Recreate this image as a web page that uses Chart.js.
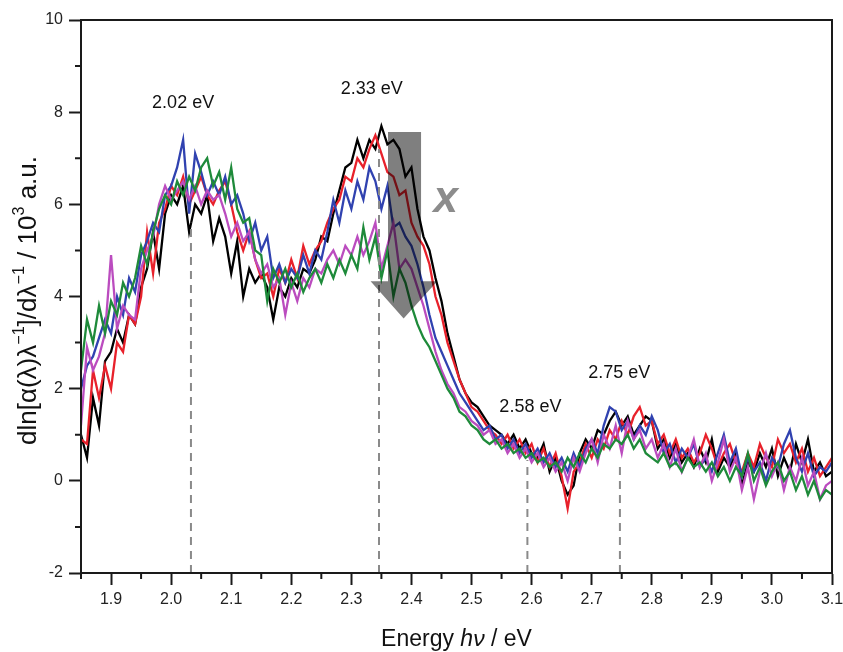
<!DOCTYPE html>
<html>
<head>
<meta charset="utf-8">
<script src="https://cdn.jsdelivr.net/npm/chart.js@4.4.0/dist/chart.umd.min.js"></script>
<style>
html, body { margin: 0; padding: 0; background: #fff; }
</style>
</head>
<body>
<canvas id="c" width="843" height="652"></canvas>
<script>
// energy axis (eV), one point every 0.01 eV
const energy = [
  1.85,1.86,1.87,1.88,1.89,1.90,1.91,1.92,1.93,1.94,
  1.95,1.96,1.97,1.98,1.99,2.00,2.01,2.02,2.03,2.04,
  2.05,2.06,2.07,2.08,2.09,2.10,2.11,2.12,2.13,2.14,
  2.15,2.16,2.17,2.18,2.19,2.20,2.21,2.22,2.23,2.24,
  2.25,2.26,2.27,2.28,2.29,2.30,2.31,2.32,2.33,2.34,
  2.35,2.36,2.37,2.38,2.39,2.40,2.41,2.42,2.43,2.44,
  2.45,2.46,2.47,2.48,2.49,2.50,2.51,2.52,2.53,2.54,
  2.55,2.56,2.57,2.58,2.59,2.60,2.61,2.62,2.63,2.64,
  2.65,2.66,2.67,2.68,2.69,2.70,2.71,2.72,2.73,2.74,
  2.75,2.76,2.77,2.78,2.79,2.80,2.81,2.82,2.83,2.84,
  2.85,2.86,2.87,2.88,2.89,2.90,2.91,2.92,2.93,2.94,
  2.95,2.96,2.97,2.98,2.99,3.00,3.01,3.02,3.03,3.04,
  3.05,3.06,3.07,3.08,3.09,3.10
];

const blackVals = [
  1.0,0.5,1.8,1.2,2.6,2.8,3.3,3.0,3.6,3.4,
  4.2,4.6,5.4,4.6,5.8,6.2,6.0,6.4,5.4,6.0,
  5.8,6.2,5.2,5.7,5.3,4.5,5.2,4.0,4.6,4.3,
  4.5,4.2,3.5,4.2,4.0,4.4,4.2,4.6,4.5,4.8,
  5.3,5.2,5.8,6.3,6.8,6.9,7.4,7.0,7.4,7.2,
  7.7,7.3,7.4,7.2,6.6,6.8,5.9,5.3,5.0,4.4,
  3.9,3.2,2.7,2.2,1.9,1.7,1.6,1.4,1.2,1.1,
  1.0,0.8,1.0,0.7,0.9,0.6,0.5,0.8,0.2,0.5,
  0.0,-0.3,-0.1,0.6,0.9,0.7,1.1,1.0,1.3,1.5,
  1.2,1.4,1.0,1.2,1.4,1.3,0.7,0.9,0.5,0.8,
  0.4,0.6,0.3,0.7,0.4,0.9,0.2,0.5,0.3,0.6,
  -0.1,0.4,0.2,0.6,0.3,0.7,0.1,0.5,0.2,0.8,
  0.4,0.9,0.2,0.4,0.1,0.2
];

const redVals = [
  0.9,0.8,2.4,1.8,2.5,2.0,3.0,2.8,3.6,3.4,
  4.0,5.4,4.5,5.6,5.9,6.4,6.2,6.6,6.0,6.3,
  6.6,6.2,6.0,6.3,6.5,6.0,5.4,5.0,5.4,4.8,
  4.4,4.5,4.0,4.6,4.3,4.8,4.4,5.1,4.7,5.0,
  5.2,5.6,5.9,6.1,6.6,6.5,7.0,6.8,7.2,7.5,
  7.1,6.7,6.6,6.2,6.3,5.6,5.3,5.1,4.7,4.0,
  3.6,3.0,2.6,2.2,1.9,1.6,1.5,1.3,1.1,1.0,
  0.8,1.0,0.7,0.9,0.6,0.8,0.4,0.7,0.3,0.6,
  0.1,-0.6,0.2,0.4,0.8,0.5,0.9,0.7,1.1,0.9,
  1.3,1.0,1.4,1.6,1.2,1.3,0.8,1.0,0.6,0.9,
  0.5,0.7,0.4,0.6,1.0,0.7,0.3,0.6,0.8,0.4,
  0.2,0.6,0.3,0.8,0.5,0.3,0.9,0.6,0.8,0.4,
  0.7,0.2,0.5,0.1,0.3,0.5
];

const blueVals = [
  2.0,2.5,2.7,3.1,3.5,3.2,4.0,3.6,4.4,4.1,
  4.9,5.2,5.6,5.4,6.2,6.4,6.8,7.4,5.8,7.1,
  6.7,6.2,6.5,6.2,6.6,6.0,6.2,5.8,5.2,5.6,
  5.0,5.3,4.4,4.7,4.3,4.6,4.4,4.9,4.5,5.0,
  4.8,5.4,6.1,5.6,6.3,5.9,6.5,6.1,6.8,6.5,
  5.9,6.4,5.5,5.6,5.3,5.1,4.7,4.2,3.6,3.1,
  2.8,2.5,2.2,1.9,1.7,1.5,1.3,1.1,1.2,0.9,
  1.0,0.7,0.9,0.6,0.8,0.5,0.7,0.4,0.6,0.3,
  0.5,0.2,0.6,0.3,0.7,0.9,0.6,1.2,1.6,1.5,
  1.1,1.3,0.9,1.2,1.0,1.4,1.1,0.6,0.8,0.4,
  0.7,0.5,0.8,0.3,0.5,0.2,0.6,1.0,0.4,0.7,
  0.1,0.5,0.2,0.4,0.0,0.5,0.3,0.8,1.1,0.5,
  0.2,0.6,0.1,0.3,0.2,0.4
];

const magentaVals = [
  1.2,2.9,2.4,2.7,3.2,4.9,3.3,3.8,3.6,3.5,
  4.6,5.0,5.3,6.0,6.4,6.1,6.3,6.5,6.1,6.4,
  6.0,6.3,6.1,6.2,5.8,5.3,5.6,5.2,5.4,4.8,
  4.5,4.7,4.2,4.4,3.6,4.3,3.9,4.4,4.2,4.6,
  4.5,4.8,5.0,4.7,5.1,4.9,5.3,4.9,5.2,5.6,
  4.6,5.1,5.6,4.6,4.8,4.6,4.2,3.8,3.3,2.8,
  2.4,2.1,1.9,1.6,1.5,1.3,1.2,1.0,1.1,0.8,
  0.9,0.6,0.8,0.5,0.7,0.4,0.6,0.3,0.5,0.2,
  0.4,0.0,0.5,0.2,0.6,0.9,0.4,1.0,0.7,1.2,
  0.6,1.3,0.9,1.1,0.7,0.9,0.5,0.8,0.3,0.7,
  0.2,0.5,0.9,0.3,0.6,0.0,0.4,0.9,0.2,0.5,
  -0.2,0.3,-0.4,0.2,0.6,0.1,0.4,-0.2,0.3,0.0,
  0.5,-0.1,0.2,-0.4,-0.1,0.0
];

const greenVals = [
  2.4,3.5,3.0,3.8,3.2,3.9,3.6,4.3,4.0,4.4,
  5.1,4.7,5.4,5.9,6.2,6.0,6.5,6.2,6.6,6.3,
  6.8,7.0,6.4,6.7,6.1,6.8,5.9,5.6,5.7,5.0,
  4.9,3.9,4.6,4.3,4.6,4.2,4.5,4.1,4.4,4.6,
  4.3,4.7,4.4,4.8,4.5,4.9,4.6,5.5,4.8,5.3,
  4.4,5.0,4.0,4.6,4.3,3.8,3.4,3.1,2.9,2.6,
  2.3,2.0,1.8,1.5,1.4,1.2,1.1,0.9,0.8,0.9,
  0.7,0.8,0.6,0.7,0.5,0.6,0.4,0.5,0.3,0.4,
  0.2,0.5,0.3,0.6,0.4,0.7,0.5,0.8,0.7,0.9,
  0.8,1.0,0.7,0.9,0.6,0.5,0.4,0.6,0.3,0.4,
  0.2,0.5,0.3,0.4,0.2,0.4,0.1,0.3,0.0,0.3,
  0.1,0.6,0.0,0.3,-0.1,0.2,0.4,0.0,0.2,-0.2,
  0.1,-0.3,0.0,-0.4,-0.2,-0.3
];

// ticks
const xTicks = [1.9,2.0,2.1,2.2,2.3,2.4,2.5,2.6,2.7,2.8,2.9,3.0,3.1];
const xMinor = [1.85,1.95,2.05,2.15,2.25,2.35,2.45,2.55,2.65,2.75,2.85,2.95,3.05];
const yTicks = [-2,0,2,4,6,8,10];
const yMinor = [-1,1,3,5,7,9];

// peak markers
const peakLabels = ['2.02 eV','2.33 eV','2.58 eV','2.75 eV'];
const peakLineX = [2.033, 2.346, 2.593, 2.747];
const peakLineTop = [5.6, 7.2, 0.45, 0.4];

// label placement (data units)
const labelPos = [
  {x: 2.02, y: 8.2},
  {x: 2.334, y: 8.5},
  {x: 2.598, y: 1.6},
  {x: 2.746, y: 2.35}
];
const arrowShape = {x0: 2.361, x1: 2.416, top: 7.57, hx0: 2.332, hx1: 2.443, base: 4.33, tipX: 2.387, tip: 3.52};
const xMark = {x: 2.457, y: 6.1};

const FONT = '"Liberation Sans", Arial, sans-serif';
const AXIS = '#1a1a1a';

function pts(vals) {
  return energy.map((e, i) => ({x: e, y: vals[i]}));
}

const series = [
  {vals: blackVals, color: '#000000', order: 5},
  {vals: redVals, color: '#e8212b', order: 4},
  {vals: blueVals, color: '#3042b0', order: 3},
  {vals: magentaVals, color: '#bb4cbf', order: 2},
  {vals: greenVals, color: '#1e8a3a', order: 1}
];

const datasets = series.map(s => ({
  data: pts(s.vals),
  borderColor: s.color,
  borderWidth: 2.3,
  pointRadius: 0,
  tension: 0,
  order: s.order
}));

peakLineX.forEach((x, i) => {
  datasets.push({
    data: [{x: x, y: -2}, {x: x, y: peakLineTop[i]}],
    borderColor: '#8a8a8a',
    borderWidth: 2,
    borderDash: [8, 6],
    pointRadius: 0,
    order: 0
  });
});

function drawRich(ctx, segs, size) {
  // measure then draw centred at the origin
  let total = 0;
  segs.forEach(s => {
    ctx.font = (s.italic ? 'italic ' : '') + (s.sup ? size * 0.62 : size) + 'px ' + FONT;
    s.w = ctx.measureText(s.t).width;
    total += s.w;
  });
  let x = -total / 2;
  ctx.textAlign = 'left';
  ctx.textBaseline = 'middle';
  segs.forEach(s => {
    ctx.font = (s.italic ? 'italic ' : '') + (s.sup ? size * 0.62 : size) + 'px ' + FONT;
    ctx.fillText(s.t, x, s.sup ? -size * 0.38 : 0);
    x += s.w;
  });
}

const overlay = {
  id: 'overlay',
  afterDatasetsDraw(chart) {
    const {ctx, scales: {x, y}} = chart;
    const a = arrowShape;
    ctx.save();
    ctx.fillStyle = 'rgba(0,0,0,0.5)';
    ctx.beginPath();
    ctx.moveTo(x.getPixelForValue(a.x0), y.getPixelForValue(a.top));
    ctx.lineTo(x.getPixelForValue(a.x1), y.getPixelForValue(a.top));
    ctx.lineTo(x.getPixelForValue(a.x1), y.getPixelForValue(a.base));
    ctx.lineTo(x.getPixelForValue(a.hx1), y.getPixelForValue(a.base));
    ctx.lineTo(x.getPixelForValue(a.tipX), y.getPixelForValue(a.tip));
    ctx.lineTo(x.getPixelForValue(a.hx0), y.getPixelForValue(a.base));
    ctx.lineTo(x.getPixelForValue(a.x0), y.getPixelForValue(a.base));
    ctx.closePath();
    ctx.fill();

    ctx.fillStyle = '#8c8c8c';
    ctx.font = 'italic bold 44px ' + FONT;
    ctx.textAlign = 'center';
    ctx.textBaseline = 'middle';
    ctx.fillText('x', x.getPixelForValue(xMark.x), y.getPixelForValue(xMark.y));

    ctx.fillStyle = '#111';
    ctx.font = '18px ' + FONT;
    peakLabels.forEach((t, i) => {
      ctx.fillText(t, x.getPixelForValue(labelPos[i].x), y.getPixelForValue(labelPos[i].y));
    });
    ctx.restore();
  },
  afterDraw(chart) {
    const {ctx, chartArea: ca, scales: {x, y}} = chart;
    ctx.save();
    ctx.strokeStyle = AXIS;
    ctx.lineWidth = 2;
    ctx.strokeRect(ca.left, ca.top, ca.right - ca.left, ca.bottom - ca.top);
    ctx.beginPath();
    xMinor.forEach(v => {
      const px = x.getPixelForValue(v);
      ctx.moveTo(px, ca.bottom);
      ctx.lineTo(px, ca.bottom + 6);
    });
    yMinor.forEach(v => {
      const py = y.getPixelForValue(v);
      ctx.moveTo(ca.left, py);
      ctx.lineTo(ca.left - 6, py);
    });
    ctx.stroke();

    ctx.fillStyle = '#111';
    ctx.save();
    ctx.translate((ca.left + ca.right) / 2, 640);
    drawRich(ctx, [{t: 'Energy '}, {t: 'h\u03bd', italic: true}, {t: ' / eV'}], 23);
    ctx.restore();

    ctx.save();
    ctx.translate(29, (ca.top + ca.bottom) / 2 + 4);
    ctx.rotate(-Math.PI / 2);
    drawRich(ctx, [
      {t: 'dln[\u03b1(\u03bb)\u03bb'}, {t: '\u22121', sup: true},
      {t: ']/d\u03bb'}, {t: '\u22121', sup: true},
      {t: ' / 10'}, {t: '3', sup: true}, {t: ' a.u.'}
    ], 26);
    ctx.restore();
    ctx.restore();
  }
};

new Chart(document.getElementById('c').getContext('2d'), {
  type: 'line',
  data: {datasets},
  options: {
    responsive: false,
    animation: false,
    layout: {padding: {left: 0, right: 11, top: 20, bottom: 0}},
    plugins: {legend: {display: false}, tooltip: {enabled: false}},
    scales: {
      x: {
        type: 'linear',
        min: 1.85,
        max: 3.1,
        afterBuildTicks: s => { s.ticks = xTicks.map(v => ({value: v})); },
        afterFit: s => { s.height = 79; s.paddingLeft = 0; s.paddingRight = 0; },
        grid: {drawOnChartArea: false, tickLength: 12, color: AXIS, tickWidth: 2},
        border: {color: AXIS, width: 2},
        ticks: {
          callback: v => v.toFixed(1),
          font: {family: FONT, size: 16},
          color: '#222',
          padding: 5,
          maxRotation: 0,
          autoSkip: false
        }
      },
      y: {
        min: -2,
        max: 10,
        afterBuildTicks: s => { s.ticks = yTicks.map(v => ({value: v})); },
        afterFit: s => { s.width = 81; s.paddingTop = 0; s.paddingBottom = 0; },
        grid: {drawOnChartArea: false, tickLength: 12, color: AXIS, tickWidth: 2},
        border: {color: AXIS, width: 2},
        ticks: {
          callback: v => String(v),
          font: {family: FONT, size: 16},
          color: '#222',
          padding: 6
        }
      }
    }
  },
  plugins: [overlay]
});
</script>
</body>
</html>
